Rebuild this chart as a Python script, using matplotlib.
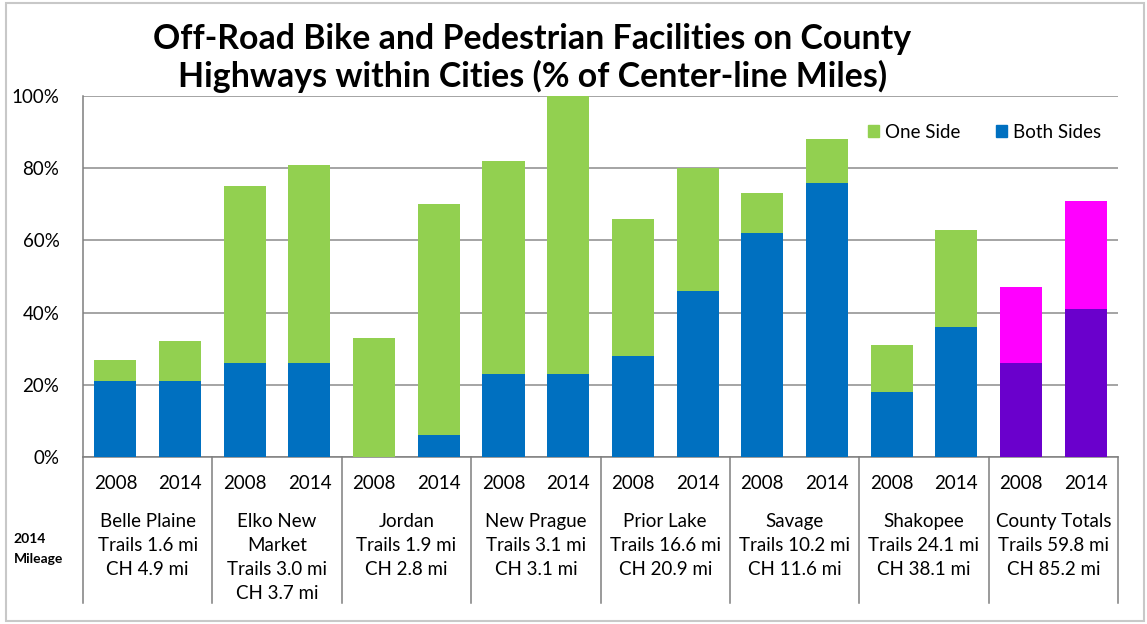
import numpy as np
import matplotlib.pyplot as plt
from matplotlib.patches import Patch
import matplotlib.transforms as mtransforms

plt.rcParams['font.family'] = ['Lato', 'DejaVu Sans']

# data: percent of center-line miles, two years per city
cities = ['Belle Plaine\nTrails 1.6 mi\nCH 4.9 mi',
          'Elko New\nMarket\nTrails 3.0 mi\nCH 3.7 mi',
          'Jordan\nTrails 1.9 mi\nCH 2.8 mi',
          'New Prague\nTrails 3.1 mi\nCH 3.1 mi',
          'Prior Lake\nTrails 16.6 mi\nCH 20.9 mi',
          'Savage\nTrails 10.2 mi\nCH 11.6 mi',
          'Shakopee\nTrails 24.1 mi\nCH 38.1 mi',
          'County Totals\nTrails 59.8 mi\nCH 85.2 mi']
years = ['2008', '2014']
both_sides = [21, 21, 26, 26, 0, 6, 23, 23, 28, 46, 62, 76, 18, 36, 26, 41]
totals = [27, 32, 75, 81, 33, 70, 82, 100, 66, 80, 73, 88, 31, 63, 47, 71]

both_sides = np.array(both_sides)
one_side = np.array(totals) - both_sides

green = '#92D050'
blue = '#0070C0'
magenta = '#FF00FF'
purple = '#6A00CC'

n = len(both_sides)
x = np.arange(n)
col_both = [blue] * (n - 2) + [purple] * 2
col_one = [green] * (n - 2) + [magenta] * 2

fs = 13.5

fig = plt.figure(figsize=(11.47, 6.24), dpi=100)
ax = fig.add_axes([0.0724, 0.2676, 0.9023, 0.5786])

ax.bar(x, both_sides, width=0.65, color=col_both, zorder=3)
ax.bar(x, one_side, width=0.65, bottom=both_sides, color=col_one, zorder=3)

ax.set_xlim(-0.5, n - 0.5)
ax.set_ylim(0, 100)
ax.set_yticks(np.arange(0, 101, 20))
ax.set_yticklabels([f'{v}%' for v in range(0, 101, 20)], fontsize=fs)
ax.yaxis.grid(True, color='#8c8c8c', linewidth=1.1, zorder=0)
ax.tick_params(axis='y', length=0, pad=17)
ax.set_xticks([])
for side in ['top', 'right']:
    ax.spines[side].set_visible(False)
for side in ['left', 'bottom']:
    ax.spines[side].set_color('#7f7f7f')
    ax.spines[side].set_linewidth(1.1)

# category table below the bars
trans = mtransforms.blended_transform_factory(ax.transData, ax.transAxes)
for b in np.arange(-0.5, n, 2):
    ax.plot([b, b], [0, -0.404], transform=trans, color='#7f7f7f',
            linewidth=1.1, clip_on=False)
for i in range(n):
    ax.text(x[i], -0.072, years[i % 2], transform=trans, ha='center',
            va='center', fontsize=fs)
for k, name in enumerate(cities):
    ax.text(2 * k + 0.5, -0.156, name, transform=trans, ha='center',
            va='top', fontsize=fs, linespacing=1.5)
fig.text(0.012, 0.120, '2014\nMileage', ha='left', va='center',
         fontsize=10, fontweight='bold', linespacing=1.75)

fig.text(0.464, 0.907, 'Off-Road Bike and Pedestrian Facilities on County\n'
         'Highways within Cities (% of Center-line Miles)',
         ha='center', va='center', fontsize=24.4, fontweight='bold',
         linespacing=1.2)

handles = [Patch(color=green, label='One Side'),
           Patch(color=blue, label='Both Sides')]
ax.legend(handles=handles, loc='upper right', ncol=2, frameon=False,
          fontsize=fs, bbox_to_anchor=(1.0, 0.97), handlelength=0.6,
          handleheight=0.6, handletextpad=0.3, columnspacing=1.9)

# light frame around the figure
fig.patches.append(plt.Rectangle((0.005, 0.005), 0.992, 0.99,
                                 transform=fig.transFigure, fill=False,
                                 edgecolor='#c8c8c8', linewidth=1.5))

fig.savefig('out.png', dpi=100)
